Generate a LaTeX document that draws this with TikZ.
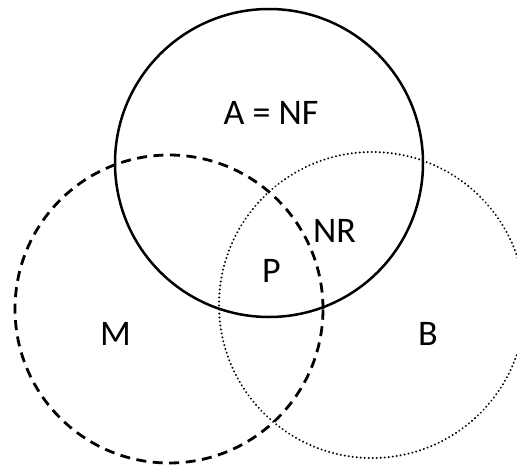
\documentclass[tikz,border=0pt]{standalone}
\usepackage{fontspec}
\setmainfont{Carlito}
\begin{document}
\begin{tikzpicture}[x=1pt,y=-1pt,
  setring/.style={circle,draw=black,inner sep=0pt,outer sep=0pt,minimum size=#1},
  solidring/.style={setring=308pt,line width=2.5pt},
  dashring/.style={setring=308pt,line width=2.8pt,dash pattern=on 10pt off 6.5pt},
  dotring/.style={setring=306pt,line width=2.2pt,line cap=round,dash pattern=on 0.01pt off 4pt},
  lbl/.style={font=\fontsize{36}{42}\selectfont,inner sep=0pt}]
\useasboundingbox (0,0) rectangle (517,466);
\clip (0,0) rectangle (517,466);
\node[solidring] (A) at (269,163) {};
\node[dashring] (M) at (169,309) {};
\node[dotring] (B) at (372,305) {};
\node[lbl] (tA) at (271,112.5) {A = NF};
\node[lbl] (tNR) at (334.5,231) {NR};
\node[lbl] (tP) at (271.5,271) {P};
\node[lbl] (tM) at (115.5,334) {M};
\node[lbl] (tB) at (428,334) {B};
\end{tikzpicture}
\end{document}
